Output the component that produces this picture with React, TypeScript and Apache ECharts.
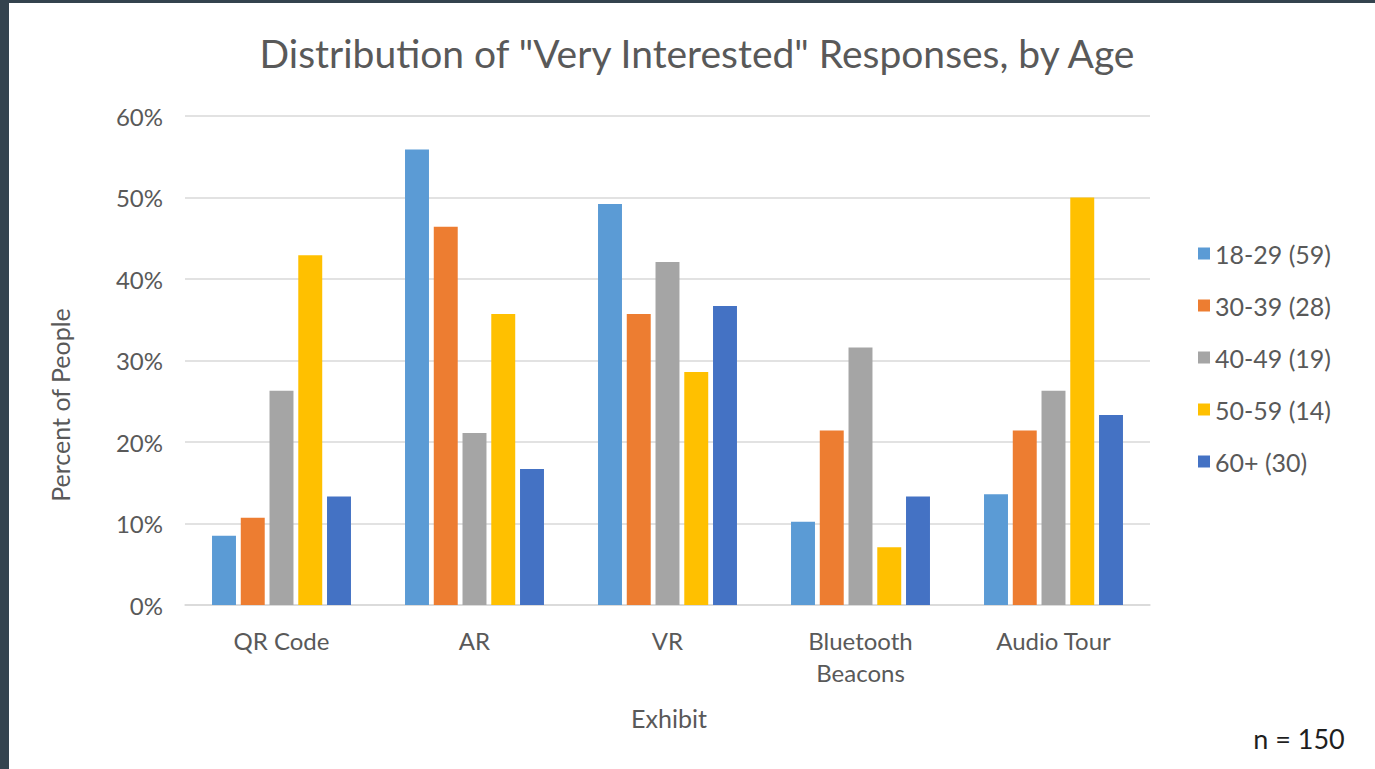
import React, { useEffect, useRef } from "react";
import * as echarts from "echarts";

const categories = ["QR Code", "AR", "VR", "Bluetooth\nBeacons", "Audio Tour"];
const seriesNames = ["18-29 (59)", "30-39 (28)", "40-49 (19)", "50-59 (14)", "60+ (30)"];
const age18_29 = [8.5, 55.9, 49.2, 10.2, 13.6];
const age30_39 = [10.7, 46.4, 35.7, 21.4, 21.4];
const age40_49 = [26.3, 21.1, 42.1, 31.6, 26.3];
const age50_59 = [42.9, 35.7, 28.6, 7.1, 50.0];
const age60plus = [13.3, 16.7, 36.7, 13.3, 23.3];
const colors = ["#5B9BD5", "#ED7D31", "#A5A5A5", "#FFC000", "#4472C4"];
const yTicks = [0, 10, 20, 30, 40, 50, 60];

const FONT = "Lato";
const TEXT = "#595959";

export default function App() {
  const ref = useRef<HTMLDivElement>(null);
  useEffect(() => {
    if (!ref.current) return;
    const chart = echarts.init(ref.current, undefined, { renderer: "svg" });
    const data = [age18_29, age30_39, age40_49, age50_59, age60plus];
    chart.setOption({
      animation: false,
      backgroundColor: "#34434e",
      textStyle: { fontFamily: FONT },
      graphic: [
        {
          type: "rect",
          z: -10,
          silent: true,
          shape: { x: 9, y: 3, width: 1375 - 9, height: 769 - 3 },
          style: { fill: "#ffffff" },
        },
        {
          type: "text",
          x: 697,
          y: 53,
          style: {
            text: 'Distribution of "Very Interested" Responses, by Age',
            fontFamily: FONT,
            fontSize: 39,
            fill: TEXT,
            textAlign: "center",
            textVerticalAlign: "middle",
          },
        },
        {
          type: "text",
          x: 60,
          y: 405,
          rotation: Math.PI / 2,
          style: {
            text: "Percent of People",
            fontFamily: FONT,
            fontSize: 25,
            fill: TEXT,
            textAlign: "center",
            textVerticalAlign: "middle",
          },
        },
        {
          type: "text",
          x: 669,
          y: 718,
          style: {
            text: "Exhibit",
            fontFamily: FONT,
            fontSize: 25,
            fill: TEXT,
            textAlign: "center",
            textVerticalAlign: "middle",
          },
        },
        {
          type: "text",
          x: 1299,
          y: 738,
          style: {
            text: "n = 150",
            fontFamily: FONT,
            fontSize: 27,
            fill: "#1f1f1f",
            textAlign: "center",
            textVerticalAlign: "middle",
          },
        },
      ],
      color: colors,
      legend: {
        orient: "vertical",
        left: 1193,
        top: 236,
        itemWidth: 12,
        itemHeight: 12,
        itemGap: 27,
        icon: "rect",
        textStyle: { fontFamily: FONT, fontSize: 25, color: TEXT, lineHeight: 24 },
        data: seriesNames,
      },
      grid: { left: 185, right: 225, top: 116, bottom: 164, containLabel: false },
      xAxis: {
        type: "category",
        data: categories,
        axisLine: { lineStyle: { color: "#d9d9d9", width: 1.5 } },
        axisTick: { show: false },
        axisLabel: {
          fontFamily: FONT,
          fontSize: 24,
          color: TEXT,
          lineHeight: 32,
          margin: 19,
          interval: 0,
        },
      },
      yAxis: {
        type: "value",
        min: 0,
        max: 60,
        interval: 10,
        axisLine: { show: false },
        axisTick: { show: false },
        splitLine: { lineStyle: { color: "#d9d9d9", width: 1.5 } },
        axisLabel: {
          fontFamily: FONT,
          fontSize: 24,
          color: TEXT,
          margin: 22,
          formatter: (v: number) => (yTicks.includes(v) ? `${v}%` : ""),
        },
      },
      series: seriesNames.map((name, i) => ({
        name,
        type: "bar",
        data: data[i],
        barGap: "20%",
        barCategoryGap: "28%",
        itemStyle: { color: colors[i] },
      })),
    });
    return () => chart.dispose();
  }, []);
  return (
    <div
      ref={ref}
      style={{ position: "fixed", left: 0, top: 0, width: 1375, height: 769 }}
    />
  );
}
